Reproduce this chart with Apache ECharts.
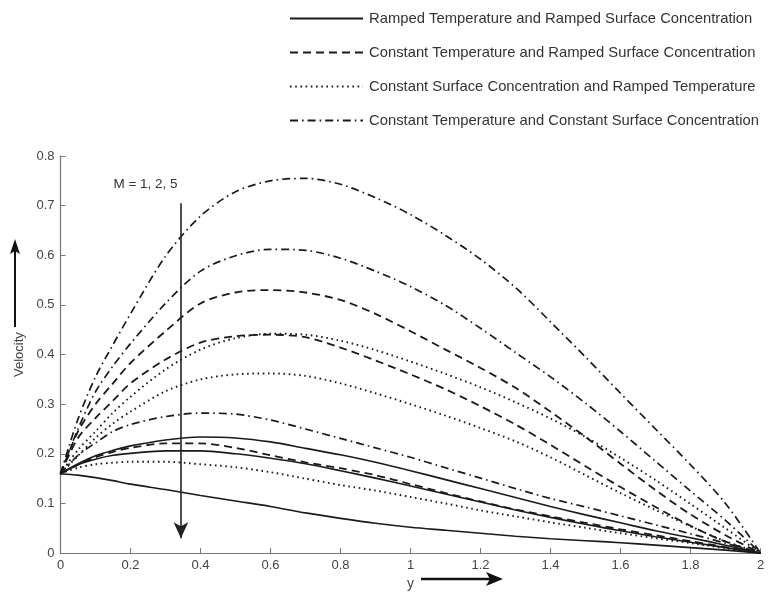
<!DOCTYPE html>
<html><head><meta charset="utf-8">
<script src="https://cdn.jsdelivr.net/npm/echarts@6/dist/echarts.min.js"></script>
<style>html,body{margin:0;padding:0;background:#fff}#c{width:770px;height:596px}</style>
</head><body><div id="c"></div>
<script>
var xs = [0,0.05,0.1,0.15,0.2,0.3,0.4,0.5,0.6,0.7,0.8,0.9,1.0,1.1,1.2,1.3,1.4,1.5,1.6,1.7,1.8,1.9,2.0];
var xTicks = ['0','0.2','0.4','0.6','0.8','1','1.2','1.4','1.6','1.8','2'];
var yTicks = ['0','0.1','0.2','0.3','0.4','0.5','0.6','0.7','0.8'];
var legendNames = [
  'Ramped Temperature and Ramped Surface Concentration',
  'Constant Temperature and Ramped Surface Concentration',
  'Constant Surface Concentration and Ramped Temperature',
  'Constant Temperature and Constant Surface Concentration'
];
// Ramped T & ramped C (solid), M = 1, 2, 5
var solidM1 = [0.16,0.180,0.196,0.207,0.216,0.228,0.234,0.232,0.224,0.211,0.198,0.183,0.166,0.148,0.130,0.112,0.094,0.077,0.061,0.045,0.031,0.016,0];
var solidM2 = [0.16,0.178,0.189,0.197,0.201,0.206,0.206,0.200,0.191,0.180,0.166,0.151,0.135,0.119,0.103,0.087,0.072,0.058,0.045,0.033,0.022,0.011,0];
var solidM5 = [0.16,0.157,0.152,0.146,0.139,0.128,0.116,0.105,0.094,0.081,0.070,0.060,0.052,0.046,0.040,0.034,0.029,0.025,0.021,0.016,0.011,0.006,0];
// Constant T & ramped C (dashed)
var dashM1 = [0.16,0.245,0.300,0.342,0.383,0.447,0.503,0.525,0.530,0.525,0.510,0.482,0.447,0.410,0.373,0.333,0.285,0.234,0.180,0.127,0.078,0.036,0];
var dashM2 = [0.16,0.232,0.272,0.307,0.342,0.390,0.424,0.437,0.440,0.435,0.414,0.388,0.360,0.330,0.296,0.259,0.218,0.175,0.133,0.093,0.055,0.023,0];
var dashM5 = [0.16,0.178,0.193,0.204,0.212,0.221,0.221,0.212,0.197,0.183,0.171,0.157,0.139,0.121,0.104,0.088,0.074,0.061,0.048,0.036,0.024,0.012,0];
// Constant C & ramped T (dotted)
var dotM1 = [0.16,0.208,0.245,0.283,0.315,0.370,0.410,0.433,0.442,0.440,0.428,0.409,0.386,0.361,0.334,0.304,0.271,0.234,0.192,0.147,0.099,0.050,0];
var dotM2 = [0.16,0.196,0.232,0.261,0.285,0.326,0.350,0.360,0.362,0.357,0.342,0.322,0.300,0.277,0.252,0.225,0.193,0.157,0.121,0.087,0.054,0.024,0];
var dotM5 = [0.16,0.172,0.179,0.182,0.184,0.184,0.179,0.173,0.163,0.150,0.137,0.126,0.113,0.100,0.086,0.074,0.062,0.051,0.040,0.030,0.020,0.010,0];
// Constant T & constant C (dash-dot)
var ddM1 = [0.16,0.270,0.355,0.420,0.482,0.598,0.679,0.728,0.750,0.755,0.743,0.716,0.682,0.640,0.592,0.535,0.466,0.395,0.322,0.250,0.178,0.100,0];
var ddM2 = [0.16,0.250,0.325,0.377,0.422,0.503,0.568,0.599,0.612,0.610,0.594,0.568,0.537,0.499,0.453,0.404,0.355,0.302,0.245,0.185,0.125,0.066,0];
var ddM5 = [0.16,0.197,0.222,0.245,0.259,0.275,0.282,0.280,0.268,0.250,0.231,0.212,0.193,0.172,0.151,0.130,0.110,0.093,0.075,0.057,0.039,0.020,0];
var arrowX = 0.344, arrowTop = 0.705, arrowBottom = 0.03;
var annotX = 0.243, annotY = 0.744;

var styles = [
  {type:'solid', width:1.6},
  {type:[8,5], width:1.8},
  {type:[1.6,3.6], width:1.9},
  {type:[8,4,1.6,4], width:1.7}
];
var groups = [[solidM1,solidM2,solidM5],[dashM1,dashM2,dashM5],[dotM1,dotM2,dotM5],[ddM1,ddM2,ddM5]];
var series = [];
groups.forEach(function(g, gi){
  g.forEach(function(arr){
    series.push({
      name: legendNames[gi], type:'line', symbol:'none', smooth:0.3, z: 3,
      data: xs.map(function(x,i){return [x, arr[i]];}),
      lineStyle: {color:'#1a1a1a', width: styles[gi].width, type: styles[gi].type, cap:'butt'},
      itemStyle: {color:'#1a1a1a'}
    });
  });
});
series.push({
  type:'line', data:[], symbol:'none', silent:true,
  markLine: {
    silent:true, symbol:['none','arrow'], symbolSize:[11,16],
    lineStyle:{color:'#222', width:1.6, type:'solid'},
    label:{show:false},
    data:[[{coord:[arrowX, arrowTop]},{coord:[arrowX, arrowBottom]}]]
  },
  markPoint: {
    silent:true, symbol:'rect', symbolSize:0.1,
    label:{show:true, position:'inside', formatter:'M = 1, 2, 5', color:'#333', fontSize:13.5, fontFamily:'Liberation Sans, Arial, sans-serif'},
    data:[{coord:[annotX, annotY]}]
  }
});

var chart = echarts.init(document.getElementById('c'));
chart.setOption({
  animation:false,
  backgroundColor:'#fff',
  legend: {
    data: legendNames, orient:'vertical', left:284, top:6,
    itemWidth:73, itemHeight:14, itemGap:19,
    itemStyle:{opacity:0},
    textStyle:{color:'#333', fontSize:14.8, fontFamily:'Liberation Sans, Arial, sans-serif', padding:[0,0,0,1]},
    selectedMode:false
  },
  grid: {left:60.5, right:9.5, top:156, bottom:40, containLabel:false},
  xAxis: {
    type:'value', min:0, max:2, interval:0.2,
    name:'y', nameLocation:'middle', nameGap:22,
    nameTextStyle:{color:'#444', fontSize:14, fontFamily:'Liberation Sans, Arial, sans-serif'},
    axisLine:{show:true, lineStyle:{color:'#777', width:1.2}},
    axisTick:{show:true, inside:true, length:5, lineStyle:{color:'#777'}},
    axisLabel:{color:'#444', fontSize:13, fontFamily:'Liberation Sans, Arial, sans-serif', margin:6,
      formatter:function(v){var i=Math.round(v/0.2); return xTicks[i]!==undefined?xTicks[i]:'';}},
    splitLine:{show:false}
  },
  yAxis: {
    type:'value', min:0, max:0.8, interval:0.1,
    name:'Velocity', nameLocation:'middle', nameGap:35, nameRotate:90,
    nameTextStyle:{color:'#444', fontSize:13, fontFamily:'Liberation Sans, Arial, sans-serif'},
    axisLine:{show:true, lineStyle:{color:'#777', width:1.2}},
    axisTick:{show:true, inside:true, length:5, lineStyle:{color:'#777'}},
    axisLabel:{color:'#444', fontSize:13, fontFamily:'Liberation Sans, Arial, sans-serif', margin:6,
      formatter:function(v){var i=Math.round(v/0.1); return yTicks[i]!==undefined?yTicks[i]:'';}},
    splitLine:{show:false}
  },
  graphic: [
    {type:'line', shape:{x1:15, y1:327, x2:15, y2:250}, style:{stroke:'#111', lineWidth:2}},
    {type:'polygon', shape:{points:[[15,239],[10,254],[15,251],[20,254]]}, style:{fill:'#111'}},
    {type:'line', shape:{x1:421, y1:579, x2:492, y2:579}, style:{stroke:'#111', lineWidth:2.5}},
    {type:'polygon', shape:{points:[[503,579],[486,572],[490,579],[486,586]]}, style:{fill:'#111'}}
  ],
  series: series
});
</script>
</body></html>
